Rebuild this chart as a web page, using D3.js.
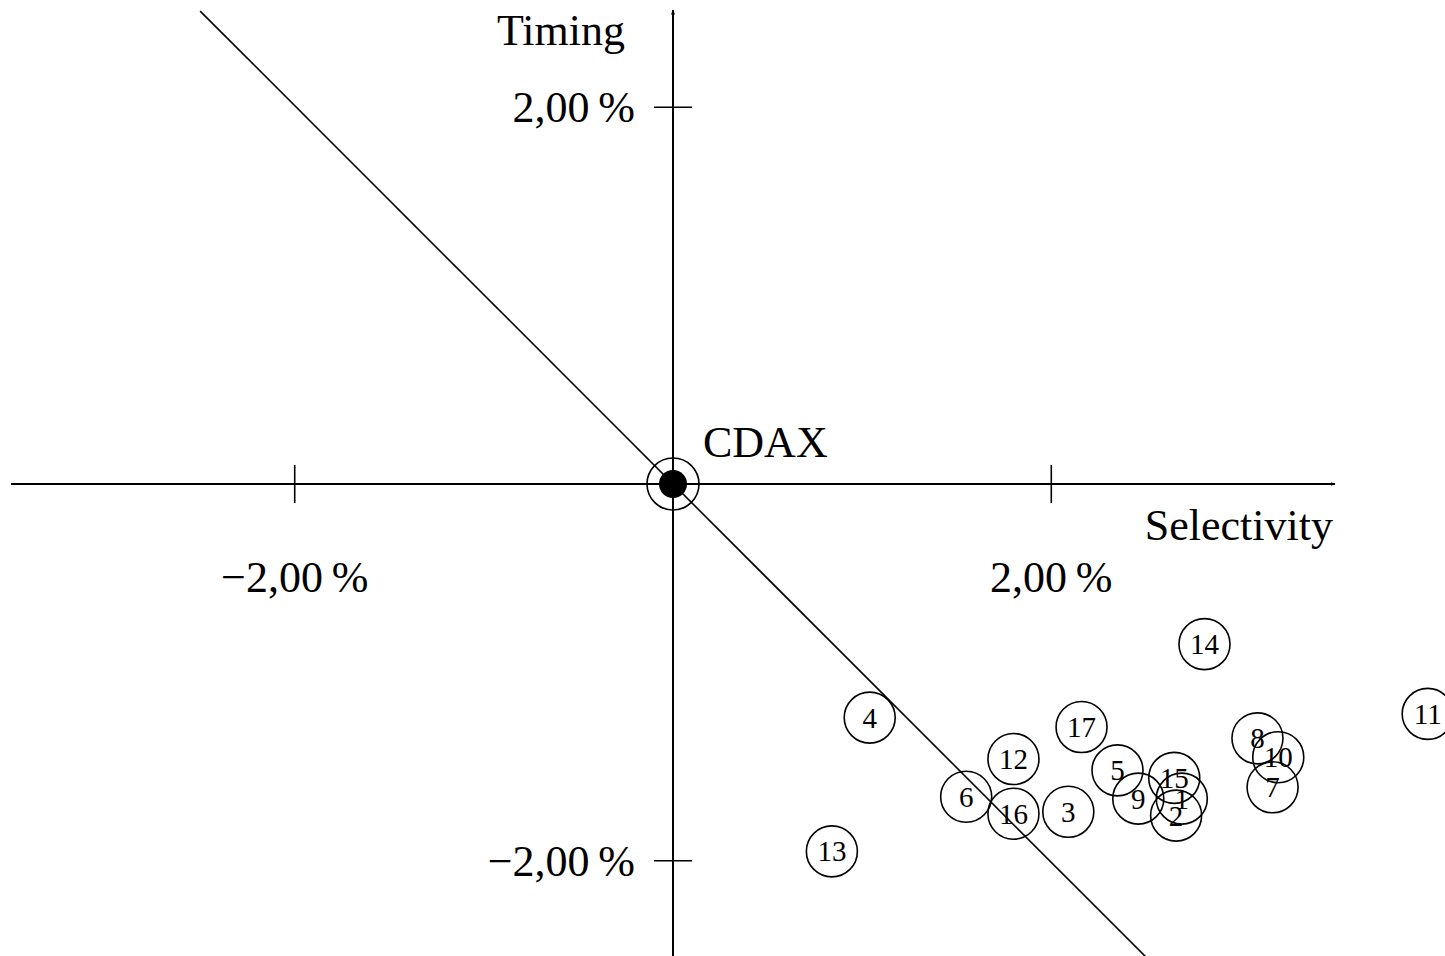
<!DOCTYPE html>
<html>
<head>
<meta charset="utf-8">
<script src="https://cdn.jsdelivr.net/npm/d3@7/dist/d3.min.js"></script>
<style>
  html, body { margin: 0; padding: 0; background: #fff; }
  svg { display: block; }
  text { font-family: "Liberation Serif", "DejaVu Serif", serif; fill: #000; }
</style>
</head>
<body>
<svg id="chart" width="1445" height="956"></svg>
<script>
// Fund performance decomposition: selectivity vs. timing (in %)
const fundIds     = ["1", "2", "3", "4", "5", "6", "7", "8", "9", "10", "11", "12", "13", "14", "15", "16", "17"];
const selectivity = [2.69, 2.66, 2.09, 1.04, 2.35, 1.55, 3.17, 3.09, 2.46, 3.20, 3.99, 1.80, 0.84, 2.81, 2.65, 1.80, 2.16];
const timing      = [-1.67, -1.76, -1.74, -1.24, -1.52, -1.66, -1.61, -1.35, -1.67, -1.45, -1.22, -1.46, -1.95, -0.85, -1.56, -1.75, -1.29];

const xTicks = [-2, 2];
const yTicks = [-2, 2];
const xTickLabels = ["\u22122,00\u2009%", "2,00\u2009%"];
const yTickLabels = ["\u22122,00\u2009%", "2,00\u2009%"];

const benchmarkName = "CDAX";
const xAxisTitle = "Selectivity";
const yAxisTitle = "Timing";

const svg = d3.select("#chart");

const x = d3.scaleLinear().domain([-3.5, 3.5]).range([11, 1335]);
const y = d3.scaleLinear().domain([-2.5, 2.5]).range([955, 13]);

// Arrow heads for axes
svg.append("defs").append("marker")
  .attr("id", "arrow")
  .attr("viewBox", "0 0 10 10")
  .attr("refX", 9).attr("refY", 5)
  .attr("markerWidth", 5).attr("markerHeight", 5)
  .attr("markerUnits", "userSpaceOnUse")
  .attr("orient", "auto")
  .append("path")
  .attr("d", "M0,1 L10,5 L0,9 Z")
  .attr("fill", "#000");

// Iso-performance line: selectivity + timing = 0
svg.append("line")
  .attr("x1", x(-2.5)).attr("y1", y(2.51))
  .attr("x2", x(2.5)).attr("y2", y(-2.51))
  .attr("stroke", "#000").attr("stroke-width", 1.6);

// Horizontal axis
svg.append("line")
  .attr("x1", x(-3.5)).attr("y1", y(0))
  .attr("x2", x(3.5)).attr("y2", y(0))
  .attr("stroke", "#000").attr("stroke-width", 2)
  .attr("marker-end", "url(#arrow)");

// Vertical axis
svg.append("line")
  .attr("x1", x(0)).attr("y1", 956)
  .attr("x2", x(0)).attr("y2", 10)
  .attr("stroke", "#000").attr("stroke-width", 2)
  .attr("marker-end", "url(#arrow)");

// X ticks
svg.selectAll(".xtick").data(xTicks).join("line")
  .attr("class", "xtick")
  .attr("x1", d => x(d)).attr("x2", d => x(d))
  .attr("y1", y(0) - 19).attr("y2", y(0) + 19)
  .attr("stroke", "#000").attr("stroke-width", 1.6);

svg.selectAll(".xlabel").data(xTicks).join("text")
  .attr("class", "xlabel")
  .attr("x", d => x(d)).attr("y", 592)
  .attr("text-anchor", "middle")
  .attr("font-size", 44)
  .text((d, i) => xTickLabels[i]);

// Y ticks
svg.selectAll(".ytick").data(yTicks).join("line")
  .attr("class", "ytick")
  .attr("y1", d => y(d)).attr("y2", d => y(d))
  .attr("x1", x(0) - 19).attr("x2", x(0) + 19)
  .attr("stroke", "#000").attr("stroke-width", 1.6);

svg.selectAll(".ylabel").data(yTicks).join("text")
  .attr("class", "ylabel")
  .attr("x", x(0) - 38).attr("y", d => y(d) + 15)
  .attr("text-anchor", "end")
  .attr("font-size", 44)
  .text((d, i) => yTickLabels[i]);

// Axis titles
svg.append("text")
  .attr("x", 1333).attr("y", 540)
  .attr("text-anchor", "end")
  .attr("font-size", 44)
  .text(xAxisTitle);

svg.append("text")
  .attr("x", 625).attr("y", 45)
  .attr("text-anchor", "end")
  .attr("font-size", 44)
  .text(yAxisTitle);

// Benchmark at the origin
svg.append("circle")
  .attr("cx", x(0)).attr("cy", y(0)).attr("r", 26)
  .attr("fill", "none").attr("stroke", "#000").attr("stroke-width", 1.6);
svg.append("circle")
  .attr("cx", x(0)).attr("cy", y(0)).attr("r", 14)
  .attr("fill", "#000");
svg.append("text")
  .attr("x", 703).attr("y", 457)
  .attr("font-size", 44)
  .text(benchmarkName);

// Funds
const funds = fundIds.map((id, i) => ({ id, sx: selectivity[i], ty: timing[i] }));

const g = svg.selectAll(".fund").data(funds).join("g")
  .attr("class", "fund")
  .attr("transform", d => `translate(${x(d.sx)},${y(d.ty)})`);

g.append("circle")
  .attr("r", 25.5)
  .attr("fill", "none")
  .attr("stroke", "#000")
  .attr("stroke-width", 1.6);

g.append("text")
  .attr("text-anchor", "middle")
  .attr("y", 10)
  .attr("font-size", 29)
  .text(d => d.id);
</script>
</body>
</html>
